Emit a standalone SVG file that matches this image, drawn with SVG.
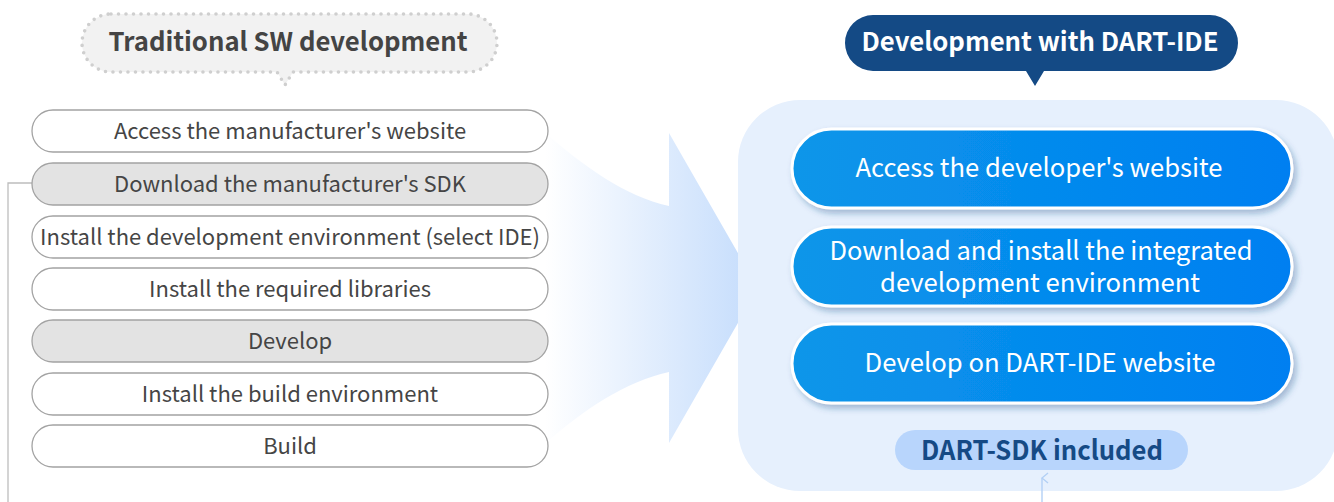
<svg xmlns="http://www.w3.org/2000/svg" width="1334" height="502" viewBox="0 0 1334 502">
<defs>
<linearGradient id="arrowGrad" gradientUnits="userSpaceOnUse" x1="545" y1="0" x2="758" y2="0">
<stop offset="0" stop-color="#ffffff"/>
<stop offset="1" stop-color="#c4dcfc"/>
</linearGradient>
<linearGradient id="blueGrad" x1="0" y1="0" x2="1" y2="0">
<stop offset="0" stop-color="#0a96e9"/>
<stop offset="1" stop-color="#017ff1"/>
</linearGradient>
<filter id="shadow" x="-10%" y="-30%" width="125%" height="170%">
<feDropShadow dx="3" dy="4" stdDeviation="3" flood-color="#1d4f86" flood-opacity="0.35"/>
</filter>
<marker id="upArrow" viewBox="0 0 12 8" refX="6" refY="1" markerWidth="12" markerHeight="8" markerUnits="userSpaceOnUse" orient="auto-start-reverse">
<path d="M1 7 L6 1 L11 7" fill="none" stroke="#b3d0f5" stroke-width="1.4"/>
</marker>
</defs>
<style>
.pill{stroke:#a3a3a3;stroke-width:1.3}
.w{fill:#ffffff}
.g{fill:#e3e3e3}
.ptxt{font-family:"Noto Sans CJK KR","Noto Sans",sans-serif;font-size:22px;fill:#454545;text-anchor:middle}
.btxt{font-family:"Noto Sans CJK KR","Noto Sans",sans-serif;font-size:26px;fill:#ffffff;text-anchor:middle}
.title{font-family:"Noto Sans CJK KR","Noto Sans",sans-serif;font-weight:bold;font-size:26px;text-anchor:middle}
.blue{fill:url(#blueGrad);stroke:#ffffff;stroke-width:3}
</style>

<rect x="0" y="0" width="1334" height="502" fill="#ffffff"/>

<g id="bigArrow">
<path d="M540 128 C585 168 625 196 669 206 L669 133 L758 288 L669 443 L669 372 C625 382 585 408 540 448 Z" fill="url(#arrowGrad)"/>
</g>

<g id="rightPanel">
<rect x="738" y="100" width="600" height="391" rx="62" fill="#e6f0fd"/>
</g>

<g id="connectors">
<path d="M32 183 H8 V502" fill="none" stroke="#bdbdbd" stroke-width="1.3"/>
<line x1="1042" y1="502" x2="1042" y2="478" stroke="#b3d0f5" stroke-width="1.4" marker-end="url(#upArrow)"/>
</g>

<g id="callout-traditional">
<path d="M111 14 H468 A29 29 0 0 1 468 72 H293 L285 85 L277 72 H111 A29 29 0 0 1 111 14 Z" fill="#f2f2f2" stroke="#cfcfcf" stroke-width="3.6" stroke-dasharray="0 7.5" stroke-linecap="round" stroke-linejoin="round"/>
<text class="title" x="288" y="51" fill="#444444" textLength="359" lengthAdjust="spacingAndGlyphs">Traditional SW development</text>
</g>

<g id="step1"><rect class="pill w" x="32" y="110" width="516" height="42" rx="21"/><text class="ptxt" x="290" y="139">Access the manufacturer's website</text></g>
<g id="step2"><rect class="pill g" x="32" y="163" width="516" height="42" rx="21"/><text class="ptxt" x="290" y="192">Download the manufacturer's SDK</text></g>
<g id="step3"><rect class="pill w" x="32" y="216" width="516" height="42" rx="21"/><text class="ptxt" x="290" y="245">Install the development environment (select IDE)</text></g>
<g id="step4"><rect class="pill w" x="32" y="268" width="516" height="42" rx="21"/><text class="ptxt" x="290" y="297">Install the required libraries</text></g>
<g id="step5"><rect class="pill g" x="32" y="320" width="516" height="42" rx="21"/><text class="ptxt" x="290" y="349">Develop</text></g>
<g id="step6"><rect class="pill w" x="32" y="373" width="516" height="42" rx="21"/><text class="ptxt" x="290" y="402">Install the build environment</text></g>
<g id="step7"><rect class="pill w" x="32" y="425" width="516" height="42" rx="21"/><text class="ptxt" x="290" y="454">Build</text></g>

<g id="callout-dart">
<path d="M873 15 H1210 A28 28 0 0 1 1210 71 H1044 L1035 86 L1026 71 H873 A28 28 0 0 1 873 15 Z" fill="#144a85"/>
<text class="title" x="1040" y="51" fill="#ffffff" textLength="357" lengthAdjust="spacingAndGlyphs">Development with DART-IDE</text>
</g>

<g id="dart1"><rect class="blue" x="792" y="129" width="500" height="79" rx="39.5" filter="url(#shadow)"/><text class="btxt" x="1039" y="177" textLength="367" lengthAdjust="spacingAndGlyphs">Access the developer's website</text></g>
<g id="dart2"><rect class="blue" x="792" y="227" width="500" height="79" rx="39.5" filter="url(#shadow)"/><text class="btxt"><tspan x="1041" y="260" textLength="423" lengthAdjust="spacingAndGlyphs">Download and install the integrated</tspan><tspan x="1040" y="292" textLength="320" lengthAdjust="spacingAndGlyphs">development environment</tspan></text></g>
<g id="dart3"><rect class="blue" x="792" y="324" width="500" height="79" rx="39.5" filter="url(#shadow)"/><text class="btxt" x="1040" y="372" textLength="351" lengthAdjust="spacingAndGlyphs">Develop on DART-IDE website</text></g>

<g id="sdkBadge">
<rect x="895" y="430" width="293" height="40" rx="20" fill="#b8d5fc"/>
<text class="title" x="1042" y="460" fill="#154a85" style="font-size:27px" textLength="242" lengthAdjust="spacingAndGlyphs">DART-SDK included</text>
</g>
</svg>
